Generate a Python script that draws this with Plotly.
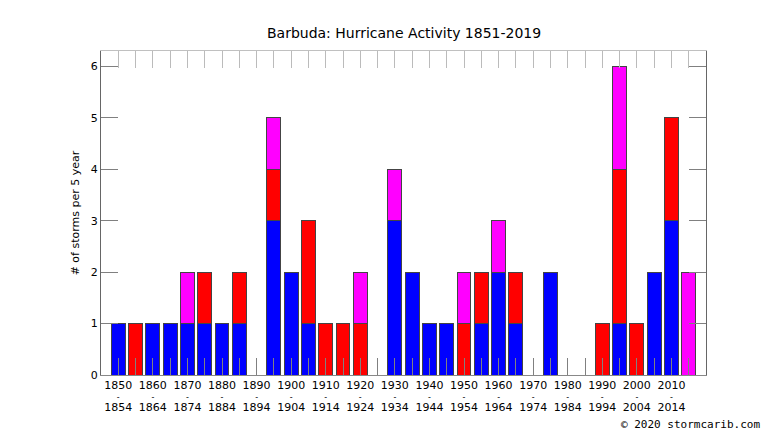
import plotly.graph_objects as go

# 5-year periods, bar placed at start year
periods = list(range(1850, 2020, 5))
blue = [1, 0, 1, 1, 1, 1, 1, 1, 0, 3, 2, 1, 0, 0, 0, 0, 3,
        2, 1, 1, 0, 1, 2, 1, 0, 2, 0, 0, 0, 1, 0, 2, 3, 0]
red = [0, 1, 0, 0, 0, 1, 0, 1, 0, 1, 0, 2, 1, 1, 1, 0, 0,
       0, 0, 0, 1, 1, 0, 1, 0, 0, 0, 0, 1, 3, 1, 0, 2, 0]
magenta = [0, 0, 0, 0, 1, 0, 0, 0, 0, 1, 0, 0, 0, 0, 1, 0, 1,
           0, 0, 0, 1, 0, 1, 0, 0, 0, 0, 0, 0, 2, 0, 0, 0, 2]

label_years = list(range(1850, 2015, 10))
line1 = [str(y) for y in label_years]
line2 = ["-" for y in label_years]
line3 = [str(y + 4) for y in label_years]
yticks = [0, 1, 2, 3, 4, 5, 6]

font = "DejaVu Sans"
tick_col = "#808080"

fig = go.Figure()
for vals, col in [(blue, "#0000ff"), (red, "#ff0000"), (magenta, "#ff00ff")]:
    fig.add_trace(go.Bar(x=periods, y=vals, width=4, marker_color=col,
                         marker_line=dict(color="#444", width=1),
                         showlegend=False))

# empty traces so the extra label axes get drawn
for ax in ["x2", "x3", "x4"]:
    fig.add_trace(go.Scatter(x=[], y=[], xaxis=ax, yaxis="y",
                             showlegend=False, hoverinfo="skip"))

xrange = [1845, 2020]
fig.update_layout(
    width=766, height=431,
    barmode="stack",
    plot_bgcolor="white", paper_bgcolor="white",
    margin=dict(l=101, r=60, t=51, b=56),
    font=dict(family=font, size=11, color="black"),
    title=dict(text="Barbuda: Hurricane Activity 1851-2019", x=0.5275, xanchor="center",
               y=0.923, yanchor="middle", font=dict(size=14, family=font)),
    xaxis=dict(range=xrange, tickvals=label_years, ticktext=line1,
               ticks="inside", ticklen=17, tickcolor=tick_col, tickwidth=1,
               minor=dict(tickvals=periods, ticks="inside", ticklen=17,
                          tickcolor=tick_col, tickwidth=1),
               showline=True, linecolor="#888", linewidth=1,
               showgrid=False, zeroline=False, tickfont=dict(size=11)),
    xaxis2=dict(range=xrange, overlaying="x", anchor="y", side="top",
                tickvals=periods, ticks="inside", ticklen=17, tickcolor="#bbb",
                showticklabels=False, showline=True, linecolor="#c0c0c0",
                showgrid=False, zeroline=False),
    xaxis3=dict(range=xrange, overlaying="x", anchor="y", side="bottom",
                tickvals=label_years, ticktext=line2, ticks="",
                ticklabelstandoff=16, showline=False, showgrid=False,
                zeroline=False, tickfont=dict(size=8)),
    xaxis4=dict(range=xrange, overlaying="x", anchor="y", side="bottom",
                tickvals=label_years, ticktext=line3, ticks="",
                ticklabelstandoff=24, showline=False, showgrid=False,
                zeroline=False, tickfont=dict(size=11)),
    yaxis=dict(range=[0, 6.3], tickvals=yticks, ticks="inside", ticklen=17,
               tickcolor=tick_col, tickwidth=1, mirror="ticks",
               showline=True, linecolor="#666", linewidth=1,
               showgrid=False, zeroline=False, tickfont=dict(size=11),
               title=dict(text="# of storms per 5 year", standoff=8,
                          font=dict(size=11))),
)

fig.add_annotation(text="© 2020 stormcarib.com", xref="paper", yref="paper",
                   x=1.0926, y=-0.154, xanchor="right", yanchor="middle",
                   showarrow=False, font=dict(family="DejaVu Sans Mono", size=11))

# drop the page's default body margin so the figure sits at the window corner
fig.write_html("out.html", config={"displayModeBar": False},
               post_script="document.body.style.margin='0';")
